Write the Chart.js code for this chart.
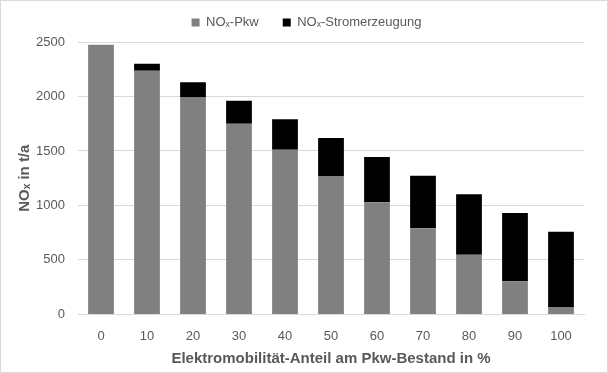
<!DOCTYPE html>
<html>
<head>
<meta charset="utf-8">
<script src="https://cdn.jsdelivr.net/npm/chart.js@4"></script>
<style>
  html, body { margin: 0; padding: 0; background: #fff; }
  #box { width: 608px; height: 373px; box-sizing: border-box; border: 1px solid #d9d9d9; position: relative; }
  canvas { display: block; }
</style>
</head>
<body>
<div id="box"><canvas id="chart" width="606" height="371"></canvas></div>
<script>
// Anteil E-Mobilität in %
const shares = ['0', '10', '20', '30', '40', '50', '60', '70', '80', '90', '100'];
// NOx-Emissionen in t/a
const noxPkw = [2475, 2235, 1990, 1750, 1510, 1270, 1030, 790, 548, 305, 68];
const noxStrom = [0, 65, 140, 210, 280, 350, 415, 483, 555, 625, 690];
const yTicks = [0, 500, 1000, 1500, 2000, 2500];

const textColor = '#595959';
const gridColor = '#d9d9d9';
const fontFam = 'Liberation Sans, Arial, sans-serif';

// Legende wie in Excel über der ganzen Grafik zentrieren
const legendShift = {
    id: 'legendShift',
    afterLayout(chart) {
        const lg = chart.legend;
        lg.left += 14; lg.right += 14;
        lg.top -= 3; lg.bottom -= 3;
    }
};

new Chart(document.getElementById('chart'), {
    type: 'bar',
    data: {
        labels: shares,
        datasets: [
            {label: 'NOₓ-Pkw', data: noxPkw, backgroundColor: '#808080', barPercentage: 0.56, categoryPercentage: 1},
            {label: 'NOₓ-Stromerzeugung', data: noxStrom, backgroundColor: '#000000', barPercentage: 0.56, categoryPercentage: 1},
        ]
    },
    plugins: [legendShift],
    options: {
        responsive: false,
        animation: false,
        layout: {padding: {left: 0, right: 23, top: -6, bottom: 4}},
        plugins: {
            tooltip: {enabled: false},
            legend: {
                position: 'top',
                labels: {
                    boxWidth: 8, boxHeight: 8, padding: 24,
                    color: textColor,
                    font: {family: fontFam, size: 13}
                }
            }
        },
        scales: {
            x: {
                stacked: true,
                grid: {display: false},
                border: {color: gridColor},
                ticks: {color: textColor, padding: 6, font: {family: fontFam, size: 13}},
                title: {
                    display: true,
                    text: 'Elektromobilität-Anteil am Pkw-Bestand in %',
                    color: textColor,
                    padding: {top: 0, bottom: 0},
                    font: {family: fontFam, size: 15, weight: 'bold'}
                }
            },
            y: {
                stacked: true,
                min: 0, max: 2500,
                afterBuildTicks: (axis) => { axis.ticks = yTicks.map(v => ({value: v})); },
                afterFit: (axis) => { axis.width = 77; },
                grid: {color: gridColor, drawTicks: false},
                border: {display: false},
                ticks: {
                    color: textColor, padding: 13,
                    font: {family: fontFam, size: 13},
                    callback: (v) => String(v)
                },
                title: {
                    display: true,
                    text: 'NOₓ in t/a',
                    color: textColor,
                    padding: {top: 15, bottom: 0},
                    font: {family: fontFam, size: 15, weight: 'bold'}
                }
            }
        }
    }
});
</script>
</body>
</html>
